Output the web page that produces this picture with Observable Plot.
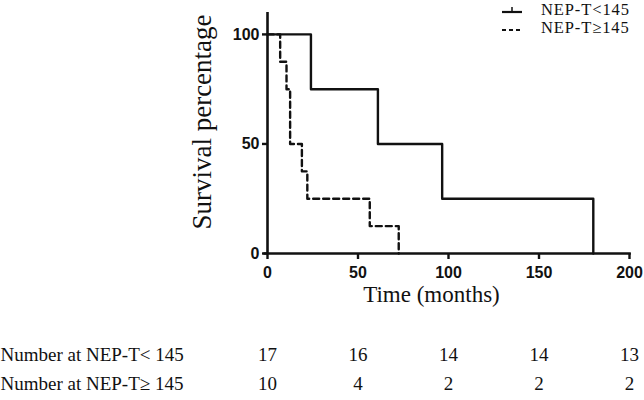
<!DOCTYPE html>
<html>
<head>
<meta charset="utf-8">
<script src="https://cdn.jsdelivr.net/npm/d3@7"></script>
<script src="https://cdn.jsdelivr.net/npm/@observablehq/plot@0.6"></script>
<style>
  body { margin: 0; background: #fff; }
  #wrap { position: relative; width: 644px; height: 400px; }
  #legend { position: absolute; left: 500px; top: 1px; font-family: "Liberation Serif", "Times New Roman", serif; font-size: 16.5px; letter-spacing: 0.9px; color: #111; }
  #legend div { display: flex; align-items: center; height: 18px; line-height: 18px; }
  #legend svg { margin-right: 17px; }
</style>
</head>
<body>
<div id="wrap">
  <div id="chart"></div>
  <div id="legend"></div>
</div>
<script>
// Group labels
const groups = ["NEP-T<145", "NEP-T≥145"];
// Kaplan-Meier step points (time in months, survival %)
const lowTime = [0, 24, 61, 96.5, 180];
const lowSurv = [100, 75, 50, 25, 0];
const highTime = [0, 7, 10.5, 12.5, 19, 22, 56.5, 72.5];
const highSurv = [100, 87.5, 75, 50, 37.5, 25, 12.5, 0];
// Number at risk table
const riskTimes = [0, 50, 100, 150, 200];
const riskLow = [17, 16, 14, 14, 13];
const riskHigh = [10, 4, 2, 2, 2];
const riskLabels = ["Number at NEP-T< 145", "Number at NEP-T≥ 145"];
const xTicks = [0, 50, 100, 150, 200];
const yTicks = [0, 50, 100];

const low = lowTime.map((t, i) => ({t, s: lowSurv[i]}));
const high = highTime.map((t, i) => ({t, s: highSurv[i]}));
const rowLow = riskTimes.map((t, i) => ({t, n: riskLow[i]}));
const rowHigh = riskTimes.map((t, i) => ({t, n: riskHigh[i]}));

const serif = '"Liberation Serif", "Times New Roman", serif';
const sans = '"Liberation Sans", Arial, sans-serif';

const plot = Plot.plot({
  width: 644,
  height: 400,
  marginLeft: 267,
  marginRight: 15,
  marginTop: 12,
  marginBottom: 147,
  x: {domain: [0, 200]},
  y: {domain: [0, 110]},
  style: {background: "white", color: "#111"},
  marks: [
    Plot.lineY(low, {x: "t", y: "s", curve: "step-after", stroke: "#111", strokeWidth: 2.4}),
    Plot.lineY(high, {x: "t", y: "s", curve: "step-after", stroke: "#111", strokeWidth: 2.4, strokeDasharray: "6,4"}),
    Plot.ruleX([0], {stroke: "#111", strokeWidth: 2.6}),
    Plot.ruleY([0], {stroke: "#111", strokeWidth: 2.6, x1: -2, x2: 201}),
    Plot.axisX({ticks: xTicks, tickSize: 6, tickPadding: 7, strokeWidth: 2.4, fontFamily: sans, fontWeight: "bold", fontSize: 16, label: null}),
    Plot.axisY({ticks: yTicks, tickSize: 5, tickPadding: 3, strokeWidth: 2.4, fontFamily: sans, fontWeight: "bold", fontSize: 16, label: null}),
    Plot.text(["Survival percentage"], {frameAnchor: "left", textAnchor: "middle", dx: -65, dy: -11, rotate: -90, fontFamily: serif, fontSize: 27, fill: "#111"}),
    Plot.text(["Time (months)"], {frameAnchor: "bottom", dx: -17, dy: 48, fontFamily: serif, fontSize: 23, fill: "#111"}),
    Plot.text([riskLabels[0]], {frameAnchor: "bottom-left", dx: -267, dy: 107, textAnchor: "start", fontFamily: serif, fontSize: 19, fill: "#111"}),
    Plot.text([riskLabels[1]], {frameAnchor: "bottom-left", dx: -267, dy: 136, textAnchor: "start", fontFamily: serif, fontSize: 19, fill: "#111"}),
    Plot.text(rowLow, {x: "t", text: "n", frameAnchor: "bottom", dy: 107, fontFamily: serif, fontSize: 19, fill: "#111"}),
    Plot.text(rowHigh, {x: "t", text: "n", frameAnchor: "bottom", dy: 136, fontFamily: serif, fontSize: 19, fill: "#111"})
  ]
});
document.getElementById("chart").appendChild(plot);

const legend = document.getElementById("legend");
legend.innerHTML = `
  <div><svg width="24" height="12"><line x1="2" y1="8" x2="22" y2="8" stroke="#111" stroke-width="2.2"/><line x1="12" y1="3" x2="12" y2="8" stroke="#111" stroke-width="1.5"/></svg><span>${groups[0]}</span></div>
  <div><svg width="24" height="12"><line x1="2" y1="8" x2="22" y2="8" stroke="#111" stroke-width="2.2" stroke-dasharray="4,3"/></svg><span>${groups[1]}</span></div>`;
</script>
</body>
</html>
